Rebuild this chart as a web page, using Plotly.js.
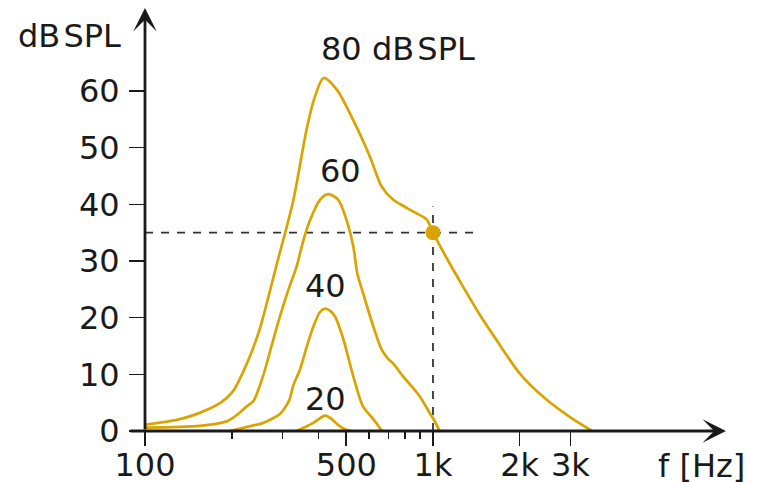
<!DOCTYPE html>
<html>
<head>
<meta charset="utf-8">
<script src="https://cdn.plot.ly/plotly-3.0.1.min.js"></script>
<style>html,body{margin:0;padding:0;background:#fff;}#chart{width:762px;height:482px;}</style>
</head>
<body>
<div id="chart"></div>
<script>
// Masking curves (frequency in Hz, level in dB SPL)
const f80 = [100, 130, 155, 182, 202, 219, 236, 251, 287, 327, 365, 389, 417, 464, 528, 604, 664, 728, 790, 855, 951, 1000, 1130, 1274, 1450, 1664, 2005, 2483, 3000, 3565];
const L80 = [1.1, 2.0, 3.2, 4.9, 7.0, 10.4, 14.3, 18.2, 29.5, 40.6, 53.5, 59.0, 62.3, 60.2, 54.9, 48.4, 43.1, 40.8, 39.7, 38.7, 37.3, 35.0, 30.0, 25.4, 20.6, 16.0, 10.1, 5.5, 2.4, 0];

const f60 = [100, 155, 192, 202, 214, 225, 238, 258, 275, 294, 315, 336, 355, 374, 405, 433, 469, 501, 529, 546, 572, 621, 664, 700, 728, 788, 833, 900, 976, 1002, 1055];
const L60 = [0.6, 0.9, 1.7, 2.3, 3.3, 4.3, 5.3, 10.0, 15.0, 20.2, 25.0, 29.0, 33.7, 37.2, 40.8, 41.8, 40.8, 37.2, 32.5, 27.8, 24.3, 18.4, 14.3, 12.7, 11.9, 9.6, 8.2, 6.1, 3.1, 2.2, 0];

const f40 = [197, 238, 253, 279, 294, 307, 318, 327, 345, 365, 384, 405, 422, 440, 457, 489, 529, 572, 611, 640, 664];
const L40 = [0, 1.0, 1.3, 2.3, 3.0, 4.2, 5.6, 8.0, 10.8, 15.0, 18.4, 21.0, 21.6, 21.2, 20.2, 16.1, 9.6, 4.3, 2.5, 1.2, 0];

const f20 = [336, 380, 422, 440, 470, 500, 520];
const L20 = [0, 1.3, 2.7, 2.3, 1.0, 0.2, 0];

const markF = [1000];
const markL = [35];
const hLineF = [100, 1420];
const hLineL = [35, 35];
const vLineF = [1000, 1000];
const vLineL = [0, 39.6];

const tickVals = [100, 500, 1000, 2000, 3000];
const tickText = ['100', '500', '1k', '2k', '3k'];
const minorVals = [200, 300, 400, 600, 700, 800, 900];
const yTicks = [0, 10, 20, 30, 40, 50, 60];

const curveLabels = ['80 dB\u200ASPL', '60', '40', '20'];
const labelF = [756, 478, 422, 424];
const labelL = [67.4, 45.8, 25.6, 5.6];

const gold = 'rgb(217,164,0)';
const ink = '#1a1a1a';
const FONT = 'DejaVu Sans, sans-serif';
const FS = 32;

const curve = (x, y) => ({x: x, y: y, type: 'scatter', mode: 'lines', line: {color: gold, width: 2.7, shape: 'spline', smoothing: 0.8}, hoverinfo: 'skip', cliponaxis: false});

const traces = [
  {x: hLineF, y: hLineL, type: 'scatter', mode: 'lines', line: {color: '#333', width: 1.8, dash: '8px,8px'}, cliponaxis: false},
  {x: vLineF, y: vLineL, type: 'scatter', mode: 'lines', line: {color: '#333', width: 1.8, dash: '8px,8px'}, cliponaxis: false},
  curve(f80, L80), curve(f60, L60), curve(f40, L40), curve(f20, L20),
  {x: markF, y: markL, type: 'scatter', mode: 'markers', marker: {color: gold, size: 15}, cliponaxis: false}
];

const annotations = curveLabels.map((t, i) => ({
  x: Math.log10(labelF[i]), y: labelL[i], xref: 'x', yref: 'y', text: t, showarrow: false,
  xanchor: 'center', yanchor: 'middle',
  font: {family: FONT, size: FS, color: ink}
}));
annotations.push({x: -0.131, y: 0.943, xref: 'paper', yref: 'paper', xanchor: 'center', yanchor: 'middle', text: 'dB\u200ASPL', showarrow: false, font: {family: FONT, size: FS, color: ink}});
annotations.push({x: 0.9598, y: -0.0835, xref: 'paper', yref: 'paper', xanchor: 'center', yanchor: 'middle', text: 'f [Hz]', showarrow: false, font: {family: FONT, size: FS, color: ink}});
// axis arrows
annotations.push({x: 1.0017, y: 0, xref: 'paper', yref: 'paper', ax: -597, ay: 0, axref: 'pixel', ayref: 'pixel', text: '', showarrow: true, arrowhead: 3, arrowsize: 1.4, arrowwidth: 2.8, arrowcolor: ink, standoff: 0});
annotations.push({x: 0, y: 1.0095, xref: 'paper', yref: 'paper', ax: 0, ay: 423, axref: 'pixel', ayref: 'pixel', text: '', showarrow: true, arrowhead: 3, arrowsize: 1.4, arrowwidth: 2.8, arrowcolor: ink, standoff: 0});

const layout = {
  width: 762, height: 482,
  margin: {l: 145, r: 37, t: 12, b: 51},
  paper_bgcolor: '#fff', plot_bgcolor: '#fff',
  showlegend: false,
  font: {family: FONT, size: FS, color: ink},
  xaxis: {
    type: 'log', range: [2, 4.0139], showgrid: false, zeroline: false, showline: false,
    tickmode: 'array', tickvals: tickVals, ticktext: tickText,
    ticks: 'outside', ticklen: 14, tickwidth: 1.6, tickcolor: ink,
    ticklabelstandoff: -8,
    tickfont: {family: FONT, size: FS, color: ink},
    minor: {tickvals: minorVals, ticks: 'outside', ticklen: 7, tickwidth: 1.6, tickcolor: ink, showgrid: false}
  },
  yaxis: {
    range: [0, 73.94], showgrid: false, zeroline: false, showline: false,
    tickmode: 'array', tickvals: yTicks,
    ticks: 'outside', ticklen: 15, tickwidth: 1.6, tickcolor: ink,
    ticklabelstandoff: 3,
    tickfont: {family: FONT, size: FS, color: ink}
  },
  annotations: annotations
};

Plotly.newPlot('chart', traces, layout, {displayModeBar: false, staticPlot: true});
</script>
</body>
</html>
